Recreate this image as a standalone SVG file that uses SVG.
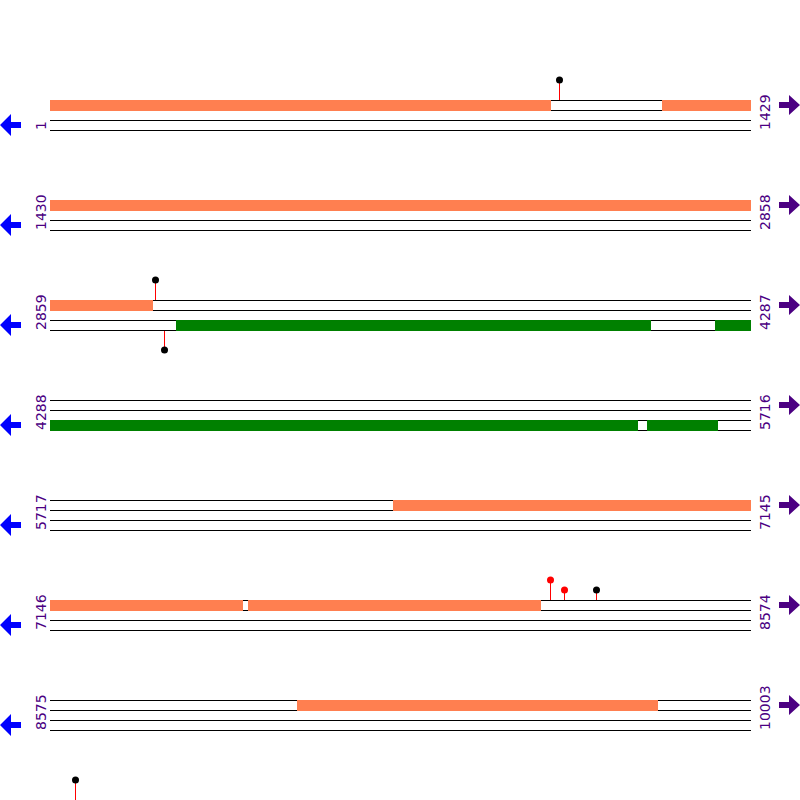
<svg xmlns="http://www.w3.org/2000/svg" width="800" height="800" viewBox="0 0 800 800">
<defs>
<style>
.ln{stroke:#000;stroke-width:1;fill:none}
.or{fill:#FF7F50}
.gr{fill:#008000}
.lbl{font-family:"DejaVu Sans",sans-serif;font-size:14px;fill:#4B0082}
.stem{stroke:#f00;stroke-width:1}
.fw{fill:#4B0082}
.rv{fill:#0000FF}
</style>
<g id="strands">
<line class="ln" x1="50" y1="100.5" x2="751" y2="100.5"/>
<line class="ln" x1="50" y1="110.5" x2="751" y2="110.5"/>
<line class="ln" x1="50" y1="120.5" x2="751" y2="120.5"/>
<line class="ln" x1="50" y1="130.5" x2="751" y2="130.5"/>
</g>
<polygon id="larr" class="rv" points="0,125 11,114 11,122 21,122 21,128 11,128 11,136"/>
<polygon id="rarr" class="fw" points="800,105 789,95 789,102 779,102 779,108 789,108 789,115"/>
</defs>
<g id="row1">
<use href="#strands"/>
<rect class="or" x="50" y="100" width="501" height="11"/>
<rect class="or" x="662" y="100" width="89" height="11"/>
<text class="lbl" transform="translate(46,130) rotate(-90)">1</text>
<text class="lbl" transform="translate(770,130) rotate(-90)">1429</text>
<use href="#larr"/><use href="#rarr"/>
</g>
<g id="row2" transform="translate(0,100)">
<use href="#strands"/>
<rect class="or" x="50" y="100" width="701" height="11"/>
<text class="lbl" transform="translate(46,130) rotate(-90)">1430</text>
<text class="lbl" transform="translate(770,130) rotate(-90)">2858</text>
<use href="#larr"/><use href="#rarr"/>
</g>
<g id="row3" transform="translate(0,200)">
<use href="#strands"/>
<rect class="or" x="50" y="100" width="103" height="11"/>
<rect class="gr" x="176" y="120" width="475" height="11"/>
<rect class="gr" x="715" y="120" width="36" height="11"/>
<text class="lbl" transform="translate(46,130) rotate(-90)">2859</text>
<text class="lbl" transform="translate(770,130) rotate(-90)">4287</text>
<use href="#larr"/><use href="#rarr"/>
</g>
<g id="row4" transform="translate(0,300)">
<use href="#strands"/>
<rect class="gr" x="50" y="120" width="588" height="11"/>
<rect class="gr" x="647" y="120" width="71" height="11"/>
<text class="lbl" transform="translate(46,130) rotate(-90)">4288</text>
<text class="lbl" transform="translate(770,130) rotate(-90)">5716</text>
<use href="#larr"/><use href="#rarr"/>
</g>
<g id="row5" transform="translate(0,400)">
<use href="#strands"/>
<rect class="or" x="393" y="100" width="358" height="11"/>
<text class="lbl" transform="translate(46,130) rotate(-90)">5717</text>
<text class="lbl" transform="translate(770,130) rotate(-90)">7145</text>
<use href="#larr"/><use href="#rarr"/>
</g>
<g id="row6" transform="translate(0,500)">
<use href="#strands"/>
<rect class="or" x="50" y="100" width="193" height="11"/>
<rect class="or" x="248" y="100" width="293" height="11"/>
<text class="lbl" transform="translate(46,130) rotate(-90)">7146</text>
<text class="lbl" transform="translate(770,130) rotate(-90)">8574</text>
<use href="#larr"/><use href="#rarr"/>
</g>
<g id="row7" transform="translate(0,600)">
<use href="#strands"/>
<rect class="or" x="297" y="100" width="361" height="11"/>
<text class="lbl" transform="translate(46,130) rotate(-90)">8575</text>
<text class="lbl" transform="translate(770,130) rotate(-90)">10003</text>
<use href="#larr"/><use href="#rarr"/>
</g>
<g id="markers">
<g id="m1"><line class="stem" x1="559.5" y1="80" x2="559.5" y2="100"/><circle cx="559.5" cy="80" r="3.5" fill="#000"/></g>
<g id="m2"><line class="stem" x1="155.5" y1="280" x2="155.5" y2="300"/><circle cx="155.5" cy="280" r="3.5" fill="#000"/></g>
<g id="m3"><line class="stem" x1="164.5" y1="331" x2="164.5" y2="350"/><circle cx="164.5" cy="350" r="3.5" fill="#000"/></g>
<g id="m4"><line class="stem" x1="550.5" y1="580" x2="550.5" y2="600"/><circle cx="550.5" cy="580" r="3.5" fill="#f00"/></g>
<g id="m5"><line class="stem" x1="564.5" y1="590" x2="564.5" y2="600"/><circle cx="564.5" cy="590" r="3.5" fill="#f00"/></g>
<g id="m6"><line class="stem" x1="596.5" y1="590" x2="596.5" y2="600"/><circle cx="596.5" cy="590" r="3.5" fill="#000"/></g>
<g id="m7"><line class="stem" x1="75.5" y1="780" x2="75.5" y2="800"/><circle cx="75.5" cy="780" r="3.5" fill="#000"/></g>
</g>
</svg>
